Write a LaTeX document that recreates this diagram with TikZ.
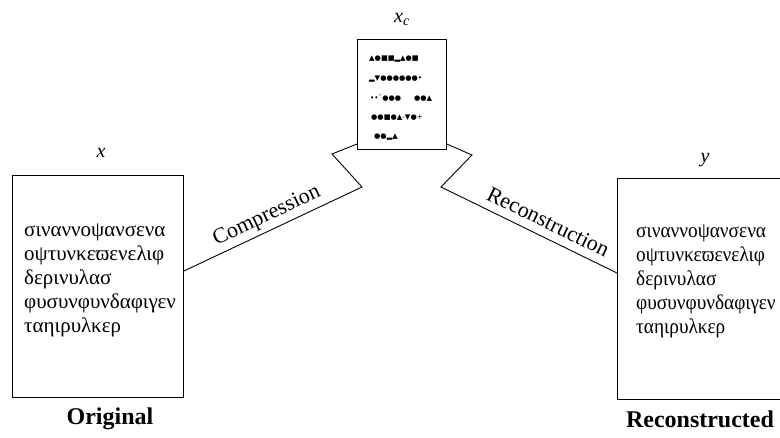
\documentclass[tikz,border=0pt]{standalone}
\usepackage{fontspec}
\setmainfont{Liberation Serif}
\newfontfamily\symfont{DejaVu Sans}
\usetikzlibrary{calc}

\begin{document}
\begin{tikzpicture}[x=1pt,y=-1pt,
  panel/.style={draw, line width=0.9pt, inner sep=0pt, anchor=north west},
  greek/.style={anchor=base west, inner sep=0pt, font=\fontsize{21}{24}\selectfont},
  glyphs/.style={anchor=base west, inner sep=0pt, font=\symfont\fontsize{7.2}{8}\selectfont},
  varname/.style={font=\fontsize{20}{24}\selectfont\itshape, inner sep=0pt},
  caption/.style={font=\fontsize{24}{28}\selectfont\bfseries, inner sep=0pt},
  link/.style={line width=0.9pt, line join=miter},
  linklabel/.style={font=\fontsize{22}{26}\selectfont, sloped, above, inner sep=4pt}]
\useasboundingbox (0,0) rectangle (780,437);
\clip (0,0) rectangle (780,437);

% the three documents
\node[panel, minimum width=171pt, minimum height=222pt] (lbox) at (12,175) {};
\node[panel, minimum width=89pt, minimum height=110pt] (mbox) at (357,39) {};
\node[panel, minimum width=180pt, minimum height=221pt] (rbox) at (617,178) {};

% variable names
\node[varname] (xlab) at (101,153) {x};
\node[varname, anchor=base] (xclab) at (402,22) {x\textsubscript{c}};
\node[varname] (ylab) at (705,160) {y};

% captions
\node[caption] (orig) at (110,419) {Original};
\node[caption] (recon) at (700,419) {Reconstructed};

% original text
\node[greek] (l1) at (24,236) {σιναννοψανσενα};
\node[greek] (l2) at (24,260) {οψτυνκεϖενελιφ};
\node[greek] (l3) at (24,284) {δερινυλασ};
\node[greek] (l4) at (24,308) {φυσυνφυνδαφιγεν};
\node[greek] (l5) at (24,332) {ταηιρυλκερ};

% reconstructed text, a little narrower
\begin{scope}[greek/.append style={xscale=0.92}]
\node[greek] (r1) at (636,237) {σιναννοψανσενα};
\node[greek] (r2) at (636,261) {οψτυνκεϖενελιφ};
\node[greek] (r3) at (636,285) {δερινυλασ};
\node[greek] (r4) at (636,309) {φυσυνφυνδαφιγεν};
\node[greek] (r5) at (636,333) {ταηιρυλκερ};
\end{scope}

% compressed code
\node[glyphs] (g1) at (369,60) {▲●■■▂▲●■};
\node[glyphs] (g2) at (369,80) {▂▼●●●●●●•};
\node[glyphs] (g3) at (370,100) {••˘●●●\hspace{13pt}●●▲};
\node[glyphs] (g4) at (371,119) {●●■●▲-▼●+};
\node[glyphs] (g5) at (374,138) {●●▂▲};

% zig-zag connectors
\coordinate (c1) at (lbox.east |- 0,271);
\coordinate (c2) at (362,187);
\coordinate (c3) at (332,154);
\coordinate (c4) at (mbox.west |- 0,144);
\draw[link] (c1) -- node[linklabel] (comp) {Compression} (c2) -- (c3) -- (c4);

\coordinate (d1) at (mbox.east |- 0,144);
\coordinate (d2) at (472,155);
\coordinate (d3) at (441,187);
\coordinate (d4) at (rbox.west |- 0,273);
\draw[link] (d1) -- (d2) -- (d3) -- node[linklabel, pos=0.57, inner sep=8pt] (reco) {Reconstruction} (d4);
\end{tikzpicture}
\end{document}
